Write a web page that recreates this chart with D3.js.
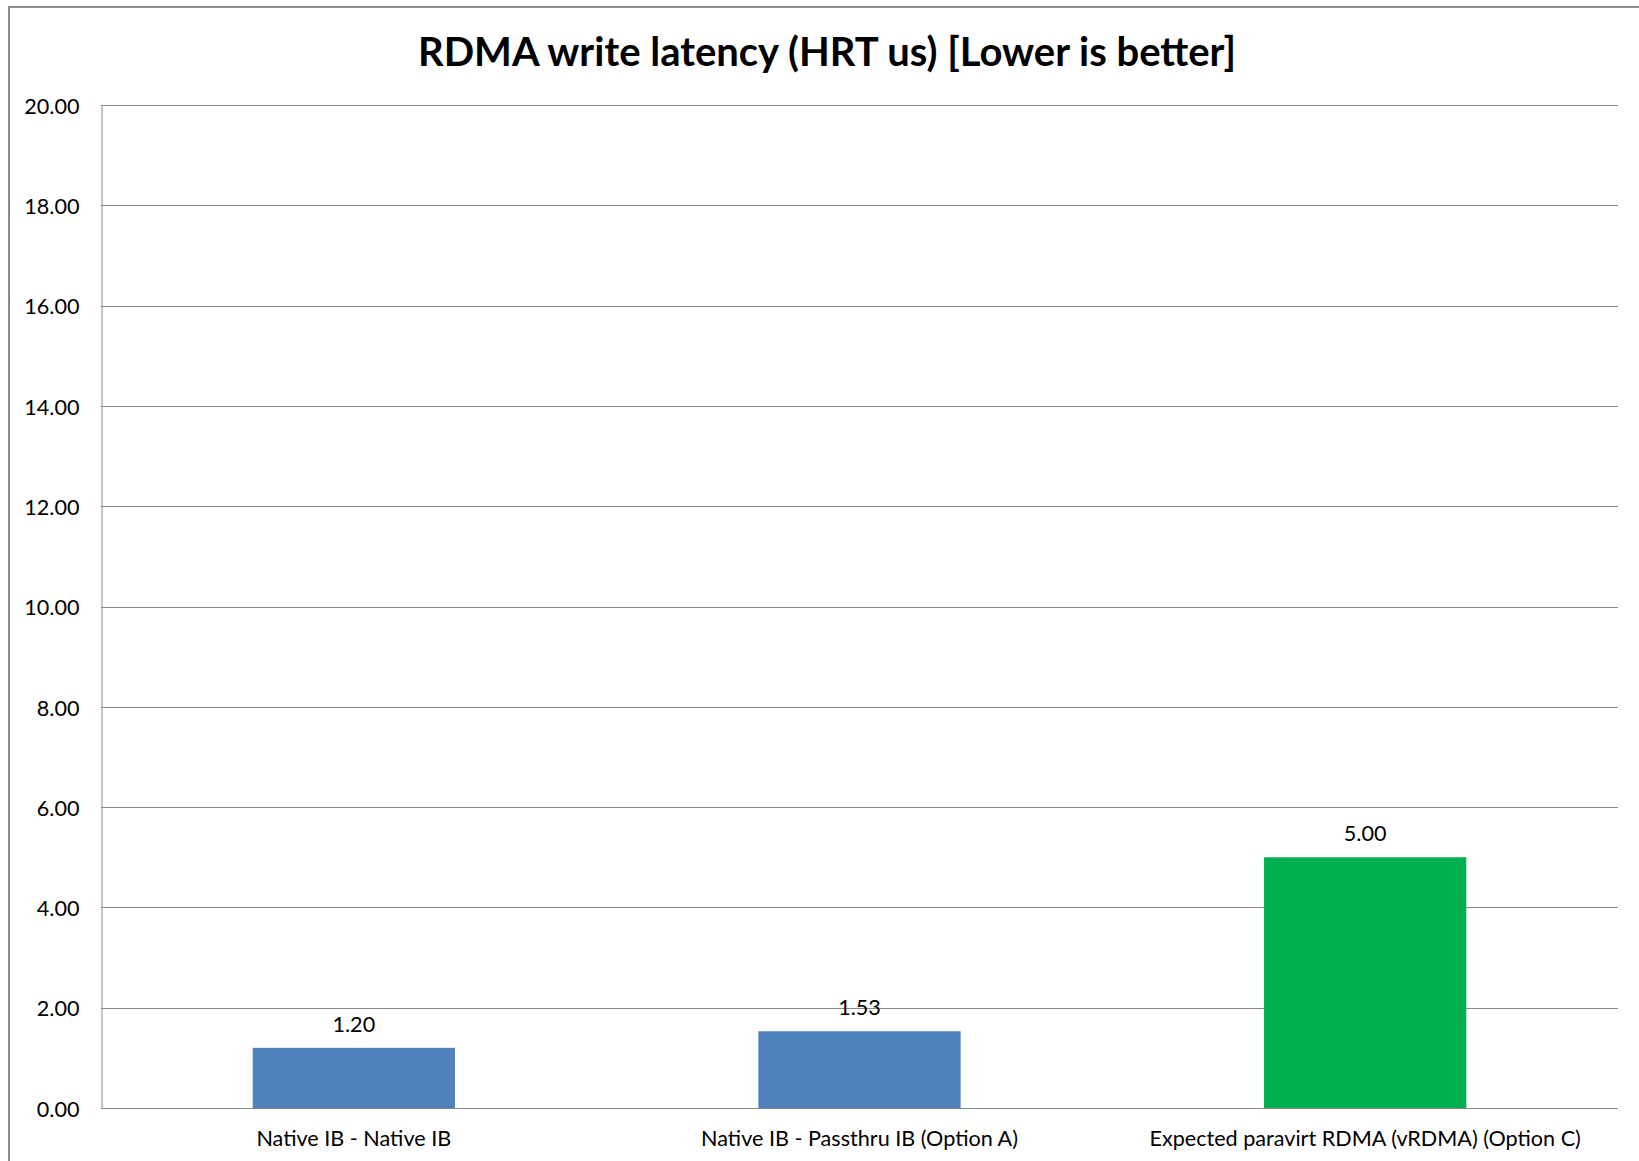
<!DOCTYPE html>
<html>
<head>
<meta charset="utf-8">
<script src="https://cdn.jsdelivr.net/npm/d3@7"></script>
<style>
  html, body { margin: 0; padding: 0; background: #fff; }
  svg { display: block; }
  text { font-family: Lato, "Noto Sans", sans-serif; fill: #000; }
</style>
</head>
<body>
<script>
// Chart data
const categories = [
  "Native IB - Native IB",
  "Native IB - Passthru IB (Option A)",
  "Expected paravirt RDMA (vRDMA) (Option C)"
];
const latencies = [1.20, 1.53, 5.00];
const barColors = ["#4F81BD", "#4F81BD", "#00B050"];
const yTicks = [0, 2, 4, 6, 8, 10, 12, 14, 16, 18, 20];
const titleText = "RDMA write latency (HRT us) [Lower is better]";

const W = 1639, H = 1161;
const plot = { left: 101, right: 1618, top: 105, bottom: 1108 };
const labelSize = "21.6px";

const svg = d3.select("body").append("svg")
  .attr("width", W).attr("height", H);

// Chart frame (runs past the right and bottom edges)
svg.append("rect")
  .attr("x", 9).attr("y", 7)
  .attr("width", W + 20).attr("height", H + 20)
  .attr("fill", "#fff")
  .attr("stroke", "#8c8c8c")
  .attr("stroke-width", 2);

const x = d3.scaleBand()
  .domain(categories)
  .range([plot.left, plot.right])
  .paddingInner(0.6)
  .paddingOuter(0.3);

const y = d3.scaleLinear()
  .domain([0, 20])
  .range([plot.bottom, plot.top]);

// Horizontal gridlines
svg.append("g")
  .selectAll("line")
  .data(yTicks)
  .join("line")
  .attr("x1", plot.left).attr("x2", plot.right)
  .attr("y1", d => Math.round(y(d)) + 0.5)
  .attr("y2", d => Math.round(y(d)) + 0.5)
  .attr("stroke", "#8a8a8a")
  .attr("stroke-width", 1);

// Y axis
const yAxis = svg.append("g")
  .attr("transform", `translate(${plot.left + 0.5},0)`)
  .call(d3.axisLeft(y).tickValues(yTicks).tickFormat(d3.format(".2f")).tickSize(0).tickPadding(22));
yAxis.select(".domain").attr("stroke", "#8a8a8a");
yAxis.selectAll("text")
  .style("font-size", labelSize)
  .style("font-family", "Lato, 'Noto Sans', sans-serif")
  .attr("dy", "0.38em")
  .attr("fill", "#000");

// X axis labels
const xAxis = svg.append("g")
  .attr("transform", `translate(0,${plot.bottom})`)
  .call(d3.axisBottom(x).tickSize(0).tickPadding(23));
xAxis.select(".domain").remove();
xAxis.selectAll("text")
  .style("font-size", labelSize)
  .style("font-family", "Lato, 'Noto Sans', sans-serif")
  .attr("fill", "#000");

// Bars
svg.append("g")
  .selectAll("rect")
  .data(categories)
  .join("rect")
  .attr("x", d => x(d))
  .attr("width", x.bandwidth())
  .attr("y", (d, i) => y(latencies[i]))
  .attr("height", (d, i) => plot.bottom - y(latencies[i]))
  .attr("fill", (d, i) => barColors[i]);

// Value labels
svg.append("g")
  .selectAll("text")
  .data(categories)
  .join("text")
  .attr("x", d => x(d) + x.bandwidth() / 2)
  .attr("y", (d, i) => y(latencies[i]) - 16)
  .attr("text-anchor", "middle")
  .style("font-size", labelSize)
  .text((d, i) => d3.format(".2f")(latencies[i]));

// Title
svg.append("text")
  .attr("x", 827)
  .attr("y", 66)
  .attr("text-anchor", "middle")
  .style("font-size", "40px")
  .style("font-weight", "bold")
  .text(titleText);
</script>
</body>
</html>
